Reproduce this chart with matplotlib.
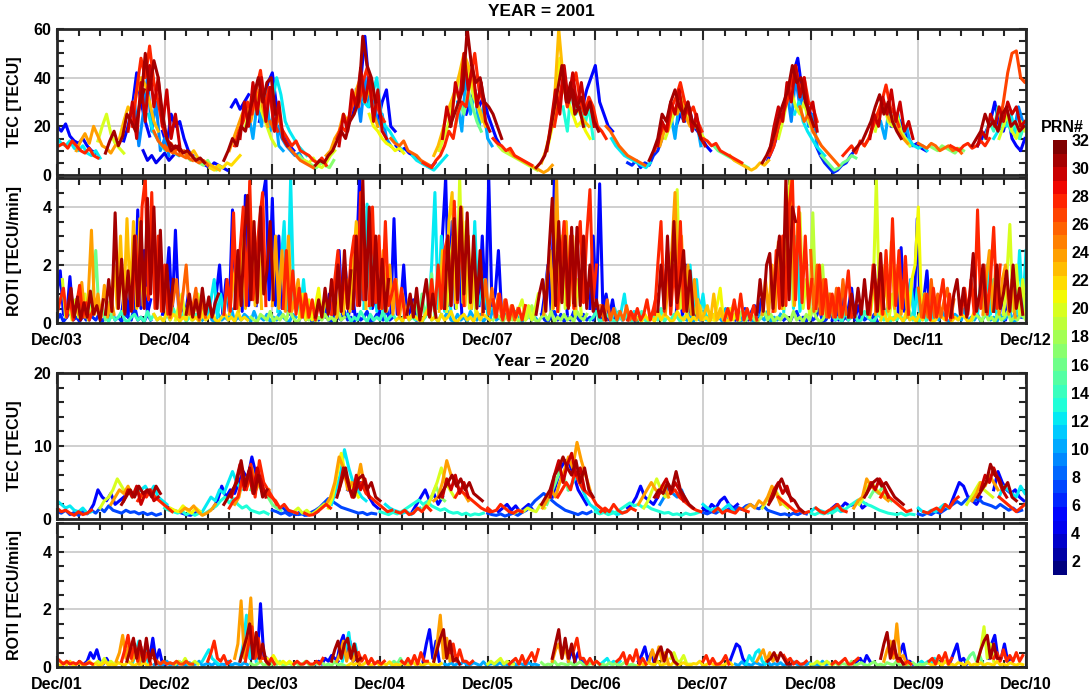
import numpy as np
import matplotlib
matplotlib.use("Agg")
import matplotlib.pyplot as plt
from matplotlib.ticker import MultipleLocator
import matplotlib.colors as mcolors
import matplotlib.cm as mcm

plt.rcParams['font.family'] = ['Liberation Sans', 'DejaVu Sans']
plt.rcParams['font.weight'] = 'bold'

# ---------------- labels ----------------
days01 = ['Dec/03', 'Dec/04', 'Dec/05', 'Dec/06', 'Dec/07', 'Dec/08', 'Dec/09', 'Dec/10', 'Dec/11', 'Dec/12']
days20 = ['Dec/01', 'Dec/02', 'Dec/03', 'Dec/04', 'Dec/05', 'Dec/06', 'Dec/07', 'Dec/08', 'Dec/09', 'Dec/10']
prn_ticks = list(range(2, 33, 2))

# sampling step (days) of the satellite passes
STEP_TEC = 0.04
STEP_ROTI = 0.03

# ---------------- data: (PRN, start day, values) ----------------
tec01 = [
    (5, 0.00, [20,18,21,16,14,13,15,12,10,9]),
    (12, 0.00, [15,13,12,14,11,10,12,9,8,10,7]),
    (28, 0.02, [12,13,11,14,12,10,9,11,8,7]),
    (24, 0.18, [10,14,17,13,20,16,12,11,9,12]),
    (20, 0.38, [14,20,25,17,13,11,9]),
    (31, 0.45, [9,14,18,12,16,25,22,18,30,35]),
    (23, 0.58, [15,22,28,25,34,40,37,30,22,18]),
    (5, 0.62, [14,20,28,42,30,22,16]),
    (30, 0.66, [18,30,15,38,22,45,28,40,20,35,15,25,12]),
    (9, 0.72, [30,12,25,40,18,30,10,15,8]),
    (4, 0.80, [10,6,8,5,7,9,6,8]),
    (28, 0.70, [20,35,48,40,53,38,30,20,15,12]),
    (31, 0.78, [30,50,35,47,40,25,15,10,12,10]),
    (12, 0.85, [25,18,15,12,10,11,9,8]),
    (26, 0.90, [18,14,12,10,13,9,8,10,7,6]),
    (5, 0.98, [18,12,25,20,22,15,10,8]),
    (26, 1.00, [12,10,9,11,8,7,9,6,5,6,4]),
    (31, 1.05, [13,11,12,9,10,8,6,7,5]),
    (23, 1.15, [10,9,8,10,7,6,5,4,3,2]),
    (17, 1.20, [8,6,7,5,4,6,3,2,3]),
    (5, 1.30, [6,5,4,3,5,4,3,2]),
    (22, 1.42, [3,2,4,3,5,4,6,8]),
    (5, 1.62, [28,31,27,30,33]),
    (31, 1.55, [6,10,15,12,20,18,26,33,40,30,38,40,25]),
    (24, 1.60, [10,15,20,25,28,22,30,35,26,20]),
    (30, 1.70, [15,30,20,38,25,40,22,36,18,30,15,12]),
    (10, 1.78, [25,15,30,20,35,18,28,12,10]),
    (28, 1.65, [12,18,22,30,25,35,43,28,36,22,18]),
    (20, 1.75, [20,28,36,30,25,20,15,12]),
    (5, 1.88, [22,30,38,42,28,20,15,12,10]),
    (12, 2.00, [30,40,33,22,18,15,12,10,8]),
    (26, 1.98, [22,18,25,15,12,10,8,6,5,4,3]),
    (9, 2.05, [20,15,12,10,8,9,6,5]),
    (28, 2.10, [18,15,12,14,10,9,8,6,5,7,4]),
    (17, 2.25, [8,6,5,4,3,5,4,3,6]),
    (20, 2.30, [6,5,7,4,3,5,8,10]),
    (31, 2.40, [4,6,5,8,10,14,18,15,22,25,30,57,45,40,30]),
    (24, 2.50, [8,10,15,18,25,22,28,35,40,30,36,25,20]),
    (30, 2.62, [12,25,18,35,28,44,30,40,22,35,18,15]),
    (9, 2.78, [35,22,40,28,33,20,25,15,12]),
    (28, 2.60, [15,20,18,25,32,28,38,44,35,30,25,22]),
    (5, 2.70, [20,25,30,38,57,35,28,22,30,35,20,18]),
    (12, 2.85, [30,28,33,40,25,20,18,15,12,10]),
    (21, 2.90, [25,20,18,15,13,12,10,11,9]),
    (26, 3.10, [15,13,12,14,10,9,8,6,5,4]),
    (5, 3.15, [12,10,11,9,8,7,5,4,3,5]),
    (12, 3.30, [8,6,5,4,3,2,4,6,8]),
    (28, 3.40, [5,4,3,6,8,12,18,15,25,30,28,40,50,35,30]),
    (23, 3.50, [8,12,18,25,30,35,42,50,45,38,30,25,20]),
    (20, 3.55, [10,15,20,28,35,42,48,40,32,28,22]),
    (16, 3.70, [20,30,25,35,28,22,18]),
    (30, 3.58, [15,28,20,38,30,50,35,45,28,38,22,18]),
    (10, 3.72, [30,18,42,25,35,20,28,15,12]),
    (31, 3.65, [20,25,30,35,60,45,38,40,30,28,25,20,15]),
    (5, 3.80, [25,30,35,28,32,25,20,15,12]),
    (28, 4.05, [15,13,12,10,11,8,7,6,5,4]),
    (19, 4.10, [12,10,9,8,7,6,5,4,3,2]),
    (24, 4.20, [10,8,7,6,5,4,3,2,1,2,4]),
    (31, 4.45, [3,5,8,15,25,35,45,30,38,25,28,20]),
    (23, 4.50, [5,10,18,30,60,40,28,35,30,25,22,20]),
    (21, 4.55, [10,18,25,48,35,30,25,20,22,18,15]),
    (30, 4.55, [10,22,35,25,45,30,42,28,38,25,30,20]),
    (13, 4.70, [28,18,38,25,32,20,28,15]),
    (28, 4.62, [20,30,40,28,35,42,30,25,32,28,20,18,15]),
    (5, 4.80, [25,30,28,35,40,45,30,25,20,18]),
    (31, 4.75, [30,35,28,32,25,30,22,18]),
    (26, 5.10, [20,18,15,12,10,8,7,6,5,4]),
    (12, 5.15, [15,12,10,8,7,6,5,4,3,5]),
    (6, 5.30, [5,4,6,3,5,4,8,10,15]),
    (31, 5.50, [6,10,15,25,22,30,35,28,25,30,22,20,15]),
    (28, 5.55, [10,15,20,18,28,32,38,30,25,28,22,18]),
    (30, 5.58, [12,22,18,30,25,35,22,30,18,25,15,12]),
    (10, 5.70, [25,15,30,22,28,18,22,12]),
    (24, 5.60, [12,18,22,28,25,30,24,20,22,18]),
    (20, 5.65, [15,20,25,28,32,25,22,20,18,15]),
    (5, 5.75, [20,25,22,28,20,18,15,12,10]),
    (28, 6.00, [15,14,12,13,10,9,8,7,6,5]),
    (16, 6.10, [12,10,9,8,7,6,5,4,3]),
    (23, 6.25, [8,6,5,4,3,2,3,5,4,6]),
    (31, 6.55, [5,8,12,18,25,30,35,45,38,40,30,25,20]),
    (5, 6.60, [6,10,15,20,28,35,42,48,35,30,25,20]),
    (30, 6.62, [10,20,28,22,38,30,45,32,40,25,30,18]),
    (9, 6.78, [35,22,40,28,35,20,25,12]),
    (28, 6.62, [8,12,20,25,30,38,45,35,40,30,28,22]),
    (20, 6.70, [15,22,30,35,28,25,30,22,18,15]),
    (12, 6.85, [25,30,22,18,15,12,10,8]),
    (26, 6.90, [28,22,25,18,15,12,10,8,6,4]),
    (6, 7.05, [12,8,5,3,1,2,4,5,8,10]),
    (16, 7.10, [8,6,4,2,3,5,6,8,7]),
    (28, 7.30, [8,10,12,9,14,12,15,20,25,30,37,28,25,20]),
    (31, 7.40, [10,12,14,18,22,28,33,25,30,22,18,15]),
    (30, 7.55, [15,25,20,32,25,35,22,30,18,22,15]),
    (10, 7.65, [22,15,28,20,25,15,20,12]),
    (24, 7.50, [12,15,20,25,30,26,22,25,18,15,13]),
    (20, 7.60, [18,25,30,22,20,25,18,15,12]),
    (5, 7.75, [20,25,22,18,15,12,13,11,10]),
    (12, 7.80, [22,18,15,14,12,11,12,10]),
    (26, 8.00, [13,12,11,13,12,10,11,12,10,11,9]),
    (17, 8.10, [12,11,10,12,11,10,9,11,10]),
    (28, 8.30, [12,11,10,12,13,11,12,14,12,15]),
    (31, 8.50, [12,15,18,25,20,22,18,25,28,20,22,18,20]),
    (30, 8.55, [12,18,15,25,20,28,22,30,25,28,20,22]),
    (14, 8.62, [15,22,18,28,20,25,18,22,15,20]),
    (5, 8.55, [12,15,18,22,30,20,18,25,15,12,10,15]),
    (12, 8.70, [15,18,22,20,25,18,15,20,18,12]),
    (20, 8.75, [15,20,25,18,15,22,18,20,15]),
    (27, 8.75, [20,30,42,50,51,40,38,42,30,25,22,20]),
    (9, 8.85, [20,18,28,22,18,15]),
]

roti01 = [
    # low background passes
    (6, 0.00, [0.1,0.3,0.05,0.2,0.4,0.1,0.2,0.05,0.3,0.1,0.5,0.2,0.1,0.3,0.05,0.2,0.1,0.4,0.1,0.2,0.05,0.3,0.2,0.1,0.6,0.1,0.2,0.05,0.3,0.1]),
    (14, 0.45, [0.2,0.05,0.3,0.1,0.2,0.4,0.1,0.05,0.2,0.3,0.1,0.2,0.05,0.4,0.1,0.3,0.1,0.2,0.05,0.3,0.1,0.5,0.2,0.1,0.3,0.05,0.2,0.1,0.3,0.1]),
    (22, 0.90, [0.3,0.1,0.2,0.05,0.4,0.1,0.3,0.2,0.05,0.2,0.1,0.6,0.1,0.2,0.05,0.3,0.1,0.2,0.4,0.1,0.05,0.2,0.3,0.1,0.2,0.05,0.4,0.1,0.2,0.1]),
    (10, 1.35, [0.1,0.2,0.4,0.1,0.05,0.3,0.1,0.2,0.1,0.5,0.05,0.2,0.1,0.3,0.2,0.05,0.4,0.1,0.2,0.1,0.3,0.05,0.2,0.1,0.4,0.2,0.1,0.05,0.3,0.2]),
    (18, 1.80, [0.2,0.1,0.05,0.3,0.2,0.1,0.4,0.05,0.2,0.1,0.3,0.1,0.5,0.2,0.05,0.1,0.3,0.2,0.1,0.4,0.05,0.2,0.1,0.3,0.1,0.2,0.05,0.4,0.1,0.2]),
    (6, 2.25, [0.1,0.4,0.1,0.2,0.05,0.3,0.1,0.2,0.6,0.1,0.05,0.3,0.2,0.1,0.4,0.1,0.2,0.05,0.3,0.1,0.2,0.4,0.05,0.1,0.3,0.2,0.1,0.5,0.1,0.2]),
    (14, 2.70, [0.3,0.05,0.2,0.1,0.4,0.2,0.05,0.3,0.1,0.2,0.1,0.4,0.05,0.2,0.3,0.1,0.2,0.05,0.5,0.1,0.2,0.1,0.3,0.05,0.2,0.4,0.1,0.2,0.05,0.3]),
    (22, 3.15, [0.1,0.2,0.05,0.4,0.1,0.3,0.2,0.1,0.05,0.3,0.5,0.1,0.2,0.05,0.3,0.1,0.2,0.4,0.1,0.05,0.2,0.3,0.1,0.2,0.05,0.4,0.1,0.3,0.2,0.1]),
    (10, 3.60, [0.2,0.4,0.1,0.05,0.3,0.1,0.2,0.05,0.4,0.2,0.1,0.3,0.05,0.2,0.1,0.5,0.1,0.2,0.05,0.3,0.1,0.2,0.4,0.1,0.05,0.2,0.3,0.1,0.2,0.05]),
    (18, 4.05, [0.1,0.3,0.2,0.05,0.2,0.4,0.1,0.2,0.05,0.3,0.1,0.2,0.6,0.1,0.05,0.2,0.3,0.1,0.4,0.05,0.2,0.1,0.3,0.1,0.2,0.05,0.4,0.2,0.1,0.3]),
    (6, 4.50, [0.3,0.1,0.05,0.2,0.4,0.1,0.3,0.05,0.2,0.1,0.4,0.2,0.05,0.3,0.1,0.2,0.1,0.5,0.05,0.2,0.3,0.1,0.2,0.05,0.4,0.1,0.2,0.1,0.3,0.05]),
    (14, 4.95, [0.1,0.2,0.4,0.05,0.1,0.3,0.2,0.1,0.05,0.4,0.1,0.2,0.3,0.05,0.2,0.1,0.4,0.1,0.05,0.3,0.2,0.1,0.5,0.05,0.2,0.1,0.3,0.2,0.05,0.2]),
    (22, 5.40, [0.2,0.05,0.3,0.1,0.2,0.05,0.4,0.1,0.3,0.2,0.05,0.1,0.4,0.2,0.1,0.3,0.05,0.2,0.1,0.6,0.1,0.2,0.05,0.3,0.1,0.2,0.4,0.05,0.1,0.3]),
    (10, 5.85, [0.1,0.3,0.05,0.2,0.1,0.4,0.2,0.05,0.3,0.1,0.2,0.05,0.5,0.1,0.2,0.3,0.05,0.1,0.4,0.2,0.1,0.05,0.3,0.2,0.1,0.4,0.05,0.2,0.1,0.3]),
    (18, 6.30, [0.2,0.1,0.4,0.05,0.2,0.3,0.1,0.05,0.2,0.4,0.1,0.3,0.05,0.2,0.1,0.3,0.2,0.05,0.4,0.1,0.2,0.05,0.3,0.1,0.5,0.2,0.05,0.1,0.3,0.2]),
    (6, 6.75, [0.1,0.2,0.05,0.3,0.4,0.1,0.2,0.05,0.3,0.1,0.2,0.5,0.05,0.1,0.3,0.2,0.1,0.4,0.05,0.2,0.1,0.3,0.2,0.05,0.4,0.1,0.2,0.1,0.3,0.05]),
    (14, 7.20, [0.3,0.1,0.2,0.05,0.4,0.1,0.2,0.3,0.05,0.1,0.4,0.2,0.1,0.05,0.3,0.2,0.1,0.5,0.05,0.2,0.1,0.3,0.05,0.2,0.4,0.1,0.2,0.05,0.3,0.1]),
    (22, 7.65, [0.1,0.4,0.05,0.2,0.1,0.3,0.2,0.05,0.4,0.1,0.2,0.05,0.3,0.1,0.6,0.2,0.05,0.1,0.3,0.2,0.1,0.4,0.05,0.2,0.1,0.3,0.2,0.05,0.1,0.4]),
    (10, 8.10, [0.2,0.05,0.3,0.1,0.4,0.2,0.05,0.1,0.3,0.2,0.1,0.5,0.05,0.2,0.1,0.3,0.05,0.2,0.4,0.1,0.2,0.05,0.3,0.1,0.2,0.4,0.05,0.1,0.3,0.2]),
    (18, 8.50, [0.1,0.3,0.2,0.05,0.4,0.1,0.2,0.05,0.3,0.1,0.2,0.4,0.05,0.2,0.1,0.3,0.2,0.05,0.1,0.4]),
    # active passes
    (5, 0.00, [1.0,1.8,0.3,0.2,1.6,0.2,0.8,0.1,0.2,0.5,0.1,0.6]),
    (28, 0.00, [0.3,0.8,1.2,0.2,0.9,0.1,0.6,1.3,0.2,0.7,0.1,0.4]),
    (20, 0.05, [1.5,0.2,0.6,0.1,0.8,0.2,0.5,1.0,0.1,0.5]),
    (31, 0.10, [0.5,1.2,0.2,0.9,0.1,0.7,0.2,1.1,0.3,0.6,0.1,0.8]),
    (24, 0.20, [0.3,1.4,0.2,0.9,3.2,0.3,1.0,0.2,1.3,0.2,0.9,0.3]),
    (16, 0.30, [0.2,0.8,2.5,0.3,0.5,0.1,0.7,0.2]),
    (31, 0.45, [0.3,1.5,0.4,3.8,0.5,2.2,0.3,1.8,0.4,3.0,0.6,2.0]),
    (23, 0.50, [0.4,2.0,0.5,3.0,0.4,3.6,0.8,3.5,0.5,3.6,0.6,1.2]),
    (5, 0.60, [0.3,1.2,0.2,2.0,0.4,3.9,0.5,2.5,0.3,0.8]),
    (28, 0.70, [0.5,3.0,0.6,4.0,5.0,0.8,4.5,0.5,3.0,0.4,2.0,0.3,0.8]),
    (31, 0.75, [0.6,3.5,0.5,4.3,1.0,4.0,0.5,3.2,0.4,2.0,0.3,1.5]),
    (5, 0.98, [0.3,1.2,2.6,0.3,3.2,0.4,0.7,0.2,1.0,0.2]),
    (26, 1.05, [0.2,0.8,1.5,0.2,1.0,2.0,0.3,0.5,1.2,0.1,0.8,0.2]),
    (20, 1.10, [0.1,0.6,1.0,0.2,0.7,0.1,0.5,1.0,0.2,0.6]),
    (31, 1.20, [0.3,1.0,0.2,0.8,0.2,1.2,0.3,0.9,0.2,0.7,1.0]),
    (12, 1.40, [0.2,0.8,1.5,0.2,1.0,0.3,1.2,0.3]),
    (5, 1.45, [0.2,1.0,2.0,0.3,1.5,0.4,3.9,0.5,2.5,0.4,4.4,0.6,3.0]),
    (28, 1.55, [0.3,1.5,0.4,3.8,0.5,2.5,4.0,0.6,4.9,0.8,2.2,3.5,4.5,0.6]),
    (23, 1.60, [0.3,1.2,2.0,0.4,3.0,0.5,2.5,3.5,0.6,3.0,0.5]),
    (31, 1.65, [0.5,2.5,0.6,3.0,4.4,0.8,3.5,0.7,4.0,1.0,1.8,3.5,0.8]),
    (5, 1.85, [0.6,3.0,4.3,5.0,0.8,4.3,0.6,3.0,0.5,1.0,0.3]),
    (12, 2.05, [0.4,2.0,3.5,0.5,5.0,0.6,1.2,0.3,1.5,0.2]),
    (24, 2.00, [0.6,3.0,0.5,2.5,0.4,3.0,0.4,0.8,1.5,0.2,1.0,0.2]),
    (28, 2.10, [0.5,2.5,0.4,1.8,0.3,1.2,0.2,1.0,0.2,0.8,0.1,0.6]),
    (21, 2.25, [0.2,1.0,0.1,0.8,0.1,0.6,1.2,0.2,0.7]),
    (31, 2.40, [0.2,0.8,0.2,1.2,0.3,1.5,0.3,2.0,0.4,2.5,0.5,1.8]),
    (5, 2.50, [0.2,1.0,0.2,1.5,2.5,0.3,1.8,0.3,1.2,0.2]),
    (28, 2.55, [0.3,1.5,2.5,0.4,1.8,0.5,2.2,3.0,0.6,4.5,0.8,2.5]),
    (23, 2.60, [0.2,1.2,0.3,1.5,0.4,2.0,3.5,0.6,4.0,0.5]),
    (5, 2.75, [0.4,2.0,5.0,0.8,1.5,3.6,0.5,1.0,0.3,0.8]),
    (31, 2.75, [0.5,3.0,0.6,5.0,0.8,4.0,0.6,3.0,0.5,2.2,0.4,1.5]),
    (12, 2.85, [0.5,4.1,0.5,2.5,0.4,1.5,0.3,1.0]),
    (28, 2.90, [0.6,4.0,0.7,3.0,0.5,3.5,0.6,1.0,1.5,0.3,1.2,0.2]),
    (24, 3.00, [0.5,2.5,0.4,2.0,0.3,1.5,0.2,1.0,0.2,0.8]),
    (5, 3.10, [0.3,3.6,0.3,0.5,2.0,0.2,0.4,0.8,0.1]),
    (16, 3.30, [0.2,0.8,0.1,1.0,0.2,0.8,1.7,0.2]),
    (31, 3.25, [0.3,1.0,0.2,1.2,0.1,0.8,1.5,0.2,1.0,0.2]),
    (28, 3.45, [0.3,1.5,0.4,2.0,0.5,2.5,3.0,0.6,4.2,0.7,3.5,0.6]),
    (12, 3.45, [0.4,2.0,4.5,0.5,3.0,0.4,2.0,0.3]),
    (5, 3.55, [0.5,3.0,5.0,0.6,3.5,0.5,2.5,0.3]),
    (23, 3.55, [0.4,2.5,0.5,3.5,4.5,0.7,3.0,4.0,0.6,3.0,0.5,2.0]),
    (20, 3.62, [0.4,2.0,3.0,0.5,5.0,0.7,3.5,0.5,2.0,0.3]),
    (31, 3.60, [0.5,3.0,0.6,3.6,0.8,4.0,1.0,3.8,0.7,3.0,0.5,2.5,0.4]),
    (5, 3.92, [0.6,3.0,0.5,5.0,0.6,1.0,2.5,0.3,0.6]),
    (12, 3.85, [0.5,3.5,0.6,1.0,1.5,0.3,0.5]),
    (26, 3.95, [0.3,1.5,0.3,1.2,0.2,1.0,0.2,0.8,0.1,0.6,0.1,0.5]),
    (28, 4.05, [0.8,0.2,1.0,0.1,0.8,0.1,0.6,0.2,0.5,0.1,0.6]),
    (20, 4.20, [0.1,0.6,0.1,0.5,0.8,0.1,0.6,0.1,0.5,1.0]),
    (31, 4.45, [0.3,1.0,1.5,0.4,2.5,4.3,0.6,3.5,0.7,3.0,0.5,3.3,0.6]),
    (5, 4.50, [0.2,1.0,2.0,0.4,5.0,0.5,1.0,1.5,0.3]),
    (24, 4.52, [0.3,1.5,2.5,0.5,5.0,0.8,2.0,3.5,0.6,3.0,0.5]),
    (28, 4.65, [0.4,2.0,3.5,0.6,3.0,0.5,2.5,3.5,0.7,3.0,4.6,0.8,2.0]),
    (20, 4.60, [0.5,2.5,0.4,3.0,0.5,1.5,2.5,0.3,1.5,0.3]),
    (5, 4.95, [0.5,3.0,0.6,4.8,0.5,1.0,0.2,0.8,0.1]),
    (31, 4.80, [0.7,3.3,0.6,3.0,0.5,2.0,0.4,0.8,0.2,0.6,0.1]),
    (26, 5.05, [0.6,0.1,0.8,0.1,0.5,0.1,0.4,0.1,0.6,0.1,0.3,0.1]),
    (12, 5.15, [0.1,0.5,0.1,0.4,1.0,0.1,0.2,0.4,0.1]),
    (28, 5.30, [0.1,0.4,0.1,0.5,0.1,0.3,0.8,0.1,0.5,1.0]),
    (28, 5.55, [0.3,2.0,3.5,0.4,2.5,0.3,2.0,0.5,3.5,0.4,1.2]),
    (31, 5.58, [0.4,2.0,0.5,3.0,0.6,3.5,0.7,1.5,2.5,0.4,1.8,0.3]),
    (24, 5.65, [0.3,1.5,2.5,4.5,0.5,3.0,0.4,2.0,0.3,1.5,0.2]),
    (20, 5.70, [0.4,2.5,4.6,0.5,1.5,0.3,1.0,0.2,0.6]),
    (5, 5.75, [0.3,1.5,0.2,2.0,0.3,1.2,0.2,0.8,0.1]),
    (12, 5.85, [0.3,2.0,0.4,1.5,0.2,1.0,0.1,0.3]),
    (23, 5.95, [0.8,0.1,0.3,0.6,0.1,1.0,0.1,0.5,0.1,0.4,0.1,0.6]),
    (21, 6.10, [0.1,0.6,1.2,0.1,0.3,0.5,0.1,0.4,0.1]),
    (28, 6.20, [0.1,0.5,0.1,0.8,0.1,1.0,0.1,0.5,0.1,0.6,0.1]),
    (6, 6.30, [0.1,0.4,0.1,0.5,0.1,0.4,0.6,0.1,0.8]),
    (31, 6.50, [0.3,1.5,0.4,2.0,2.4,0.5,2.0,3.0,0.6,5.0,0.8,4.0,3.5]),
    (24, 6.55, [0.3,1.5,0.3,2.0,0.4,2.8,0.5,2.0,3.0,5.0,0.6,3.5]),
    (28, 6.65, [0.4,2.5,0.5,3.0,0.6,4.0,5.0,0.8,4.0,0.7,3.0,0.5,1.5]),
    (20, 6.75, [0.5,3.5,5.0,0.6,2.5,3.8,0.5,1.5,0.3]),
    (12, 6.75, [0.4,2.5,4.7,0.5,3.0,0.4,1.0]),
    (19, 6.99, [0.4,3.8,0.4,1.0,2.0,0.3,1.0]),
    (26, 7.00, [2.5,0.4,2.0,0.3,1.5,0.2,1.0,0.2,1.2,0.2,1.5,0.3]),
    (28, 7.05, [0.5,2.0,0.3,1.5,0.2,1.0,0.2,1.2,0.2,0.8,1.8,0.2]),
    (5, 7.20, [0.1,0.8,0.1,1.0,0.2,0.5,1.2,0.1,0.6,0.2]),
    (31, 7.35, [0.2,1.0,0.2,1.2,0.3,1.5,0.3,1.0,2.0,0.4,2.4,0.5]),
    (28, 7.55, [0.3,2.0,0.4,1.5,0.3,2.5,0.5,3.6,0.6,2.5,0.5,2.3,0.3]),
    (20, 7.55, [0.2,1.0,5.0,0.3,0.8,1.2,0.2,1.0,0.2]),
    (24, 7.60, [0.3,1.5,0.3,2.0,0.4,2.8,0.5,2.0,0.3,1.5,0.2]),
    (5, 7.81, [0.3,2.6,0.4,0.8,1.5,0.3,3.6,0.4,0.8,1.8,0.2]),
    (21, 7.91, [0.3,1.5,2.0,4.0,0.4,1.0,0.2,0.5]),
    (12, 7.90, [0.3,1.5,0.2,1.2,0.2,1.0,0.1,0.8,0.1]),
    (26, 8.00, [1.2,0.2,1.0,0.2,1.5,0.2,1.0,0.2,0.8,1.2,0.1,0.8]),
    (28, 8.05, [0.2,1.0,0.1,1.2,0.2,0.8,1.5,0.1,1.0,0.2]),
    (31, 8.30, [0.2,1.0,1.5,0.3,1.2,0.2,1.0,2.4,0.4,1.0,2.0,0.4]),
    (28, 8.40, [0.3,1.2,0.3,1.5,0.3,3.9,0.5,2.0,0.3,1.5,3.3,0.5,2.0]),
    (12, 8.55, [0.3,1.5,0.2,2.0,0.3,1.5,0.2,1.0]),
    (24, 8.60, [0.3,1.5,2.5,0.4,2.0,0.3,1.5,2.0,0.3,1.5,0.2]),
    (20, 8.79, [0.3,1.5,3.4,0.4,2.0,0.3,1.5,0.2]),
    (5, 8.75, [0.2,1.0,0.1,0.8,1.2,0.2,1.0,0.2]),
    (31, 8.70, [0.4,2.0,0.5,1.0,1.8,0.4,2.0,0.5,1.2,0.3]),
    (12, 8.85, [0.3,1.5,0.3,2.5,0.4,2.5]),
]

tec20 = [
    (7, 0.00, [1.0,0.8,1.2,0.6,0.9,0.5,1.0,0.7,1.2,0.8,1.5,1.0,1.8,1.2,1.0,0.8,1.2,0.9,1.0,0.7,0.9,0.6,0.8,0.5,0.7]),
    (13, 1.00, [1.5,1.2,1.0,0.8,1.1,0.6,0.9,0.5,0.8,0.6,1.0,1.4,1.8,2.5,3.0,2.2,2.8,2.0,1.5,1.8,1.2,1.0,0.8,1.0,0.7]),
    (7, 2.00, [1.2,1.0,0.7,0.9,0.5,0.8,0.6,0.7,0.5,0.9,1.2,1.6,2.2,2.8,2.4,2.0,1.6,1.4,1.2,1.0,0.8,0.9,0.6,0.8,0.7]),
    (13, 3.00, [1.0,0.8,0.6,0.9,0.7,1.0,1.4,1.8,2.2,2.6,2.0,2.4,1.8,1.5,1.2,1.4,1.0,0.8,0.9,0.6,0.8,0.5,0.7,0.6,0.8]),
    (7, 4.00, [0.8,0.6,0.5,0.7,0.4,0.6,0.8,0.5,0.9,1.2,1.8,2.5,3.0,3.5,3.0,2.5,2.0,1.6,1.2,1.0,0.8,0.6,0.9,0.7,1.0]),
    (13, 5.00, [1.0,0.7,0.9,0.6,0.8,1.0,1.4,1.8,2.2,1.8,2.0,1.6,1.8,1.4,1.2,1.0,0.8,0.9,0.6,0.7,0.5,0.8,0.6,0.7,0.9]),
    (7, 6.00, [0.9,0.7,1.0,0.8,1.2,1.0,1.4,1.1,1.6,1.3,1.8,2.0,1.6,1.4,1.8,1.2,1.0,0.8,0.6,0.7,0.5,0.8,0.6,0.9,0.7]),
    (13, 7.00, [0.8,0.6,0.9,0.7,1.0,0.8,1.2,1.5,1.3,1.8,2.2,2.6,2.4,2.0,1.8,1.5,1.2,1.0,0.8,0.7,0.6,0.8,0.5,0.7,0.6]),
    (7, 8.00, [0.7,0.5,0.8,0.6,1.0,0.8,1.2,1.6,2.0,2.4,2.0,2.6,3.0,2.5,2.8,2.2,2.0,1.8,1.5,2.0,1.6,1.2,1.5,1.0,1.2]),
    (12, 0.00, [2.5,2.0,1.5,1.8,1.2,1.0,1.5,0.8,1.0]),
    (28, 0.00, [1.5,1.0,1.2,0.8,0.5,1.0,0.6,0.8,1.2]),
    (5, 0.30, [1.0,2.0,4.0,3.0,2.5,3.5,2.0,2.5,3.0]),
    (20, 0.40, [1.5,2.5,3.0,4.0,5.5,4.5,3.5,4.0]),
    (24, 0.50, [2.0,3.0,4.0,3.5,4.5,3.0,4.0,3.0,3.5]),
    (30, 0.62, [2.5,4.0,3.0,4.5,2.0,3.5,4.0,2.5,3.0]),
    (31, 0.60, [2.0,3.0,4.0,3.0,4.5,3.5,4.0,3.0,4.5,3.5]),
    (12, 0.70, [3.0,3.5,4.0,4.5,3.5,4.5,3.0,2.5,2.0]),
    (28, 0.75, [2.5,3.5,3.0,4.0,3.0,2.5,2.0,1.5,1.0]),
    (6, 1.00, [2.0,1.5,1.2,1.0,0.8,0.6,0.5,0.8,1.0]),
    (21, 1.05, [1.5,1.2,1.0,1.8,1.2,0.8,1.5,1.0]),
    (24, 1.15, [1.0,1.5,1.2,1.8,1.0,0.5,0.8,1.2,2.0]),
    (12, 1.35, [1.0,2.0,3.0,2.5,4.0,3.5,5.0,6.5,5.0,4.0]),
    (5, 1.45, [1.5,2.5,4.5,3.0,4.0,3.5,5.0,6.5,5.5,8.5,6.0,4.5]),
    (31, 1.55, [2.0,3.0,4.0,5.0,8.0,4.5,7.0,3.5,6.0,3.0,4.0]),
    (30, 1.62, [3.0,5.0,7.5,4.0,6.5,3.5,7.0,5.0,3.0]),
    (28, 1.60, [1.5,2.5,3.0,5.5,4.0,7.5,3.0,8.0,5.0,4.0,3.0,2.0]),
    (24, 1.65, [2.0,3.0,6.0,4.5,7.0,4.0,5.5,3.5,4.0]),
    (16, 1.80, [4.0,5.5,4.5,3.5,3.0,2.0,1.5,1.2]),
    (28, 1.95, [3.5,3.0,2.5,1.5,2.0,1.2,1.0,0.8]),
    (6, 2.10, [1.5,1.0,0.8,0.6,1.0,0.5,0.8,0.6,1.0]),
    (20, 2.20, [1.0,1.5,0.8,1.2,0.6,1.0,1.5,2.0]),
    (28, 2.30, [0.8,0.5,0.6,1.0,1.5,2.0,1.5]),
    (24, 2.50, [2.0,3.0,5.0,8.5,7.0,4.0,5.0,4.5,7.5,4.0]),
    (21, 2.52, [1.5,3.0,6.0,9.0,6.0,5.0,4.0,3.0]),
    (12, 2.55, [2.0,4.0,6.0,9.5,7.0,5.0,4.0,3.0,2.5]),
    (30, 2.62, [4.0,7.0,5.0,3.0,6.0,4.0,5.5,3.0]),
    (31, 2.60, [3.0,5.0,7.0,4.0,3.0,5.5,6.0,4.0,5.0,3.0,2.5]),
    (5, 2.70, [4.0,5.0,3.5,5.0,4.0,3.0,2.0,1.5]),
    (28, 2.75, [3.0,4.5,5.0,3.5,3.0,2.5,2.0,1.5,1.0,1.2]),
    (12, 3.05, [2.0,1.5,1.2,1.0,0.8,1.0,0.6,1.2,1.5]),
    (28, 3.15, [1.0,0.8,1.2,0.6,0.8,1.5,1.0,1.8,1.2]),
    (5, 3.30, [1.0,2.0,3.0,4.0,2.5,3.5,2.0,3.0]),
    (17, 3.40, [1.5,2.0,3.0,4.5,3.0,2.5]),
    (20, 3.45, [2.0,3.5,5.0,7.0,5.0,4.0,3.0]),
    (24, 3.50, [2.5,3.0,5.0,8.0,6.0,5.0,4.0,3.5,2.5]),
    (30, 3.58, [3.0,5.5,4.0,6.0,3.5,5.0,3.0]),
    (31, 3.55, [3.0,4.0,5.0,6.0,4.5,5.5,4.0,5.0,3.5,3.0,2.5]),
    (28, 3.70, [3.0,4.0,3.5,3.0,2.5,2.0,1.5,1.2,1.0]),
    (28, 4.00, [1.5,1.0,1.2,2.0,1.5,1.0,0.8,1.2,1.0]),
    (5, 4.10, [1.0,1.5,2.0,1.2,1.8,1.0,1.5,2.0,1.2]),
    (20, 4.25, [0.8,1.2,1.0,1.5,1.2,1.0,2.0,1.5]),
    (24, 4.51, [1.5,2.5,4.0,3.0,5.0,6.5,8.5,7.0,10.5,8.0,6.0,4.0]),
    (31, 4.50, [2.0,3.0,4.0,6.0,7.0,8.5,7.0,6.0,8.0,5.0,7.0,4.0,3.0]),
    (30, 4.58, [3.0,6.0,8.0,5.0,7.5,9.0,6.0,7.0,4.0]),
    (5, 4.60, [3.0,5.0,7.0,8.0,7.5,6.0,4.0,3.0,2.0]),
    (16, 4.55, [2.0,3.5,5.0,6.5,5.5,4.0]),
    (28, 4.65, [3.0,4.0,5.0,4.0,6.5,5.0,4.0,3.5,3.0,2.0,1.5,1.0]),
    (12, 4.75, [4.0,5.0,6.0,4.5,3.0,2.0,1.5]),
    (12, 5.00, [1.5,1.0,1.2,0.8,1.0,0.6,0.8,1.0]),
    (28, 5.05, [1.0,1.5,1.0,2.0,1.2,0.8,1.0,1.5,1.2]),
    (5, 5.30, [1.5,2.0,3.0,4.5,3.0,2.5,2.0,3.0]),
    (24, 5.40, [2.0,3.0,4.0,5.0,4.0,3.5,4.5,3.0]),
    (20, 5.45, [1.5,2.5,4.0,5.5,4.0,3.0,3.5]),
    (9, 5.60, [2.0,3.0,4.5,3.5,3.0,4.0,2.5]),
    (30, 5.58, [3.0,4.5,5.5,3.5,5.0,4.0,2.5]),
    (31, 5.55, [3.0,4.0,3.5,5.0,4.0,6.5,4.0,3.0,2.0,1.5]),
    (28, 5.70, [3.5,4.0,3.0,2.5,2.0,1.5,1.2,1.0]),
    (5, 6.00, [1.5,1.0,2.0,1.5,2.5,3.0,2.0,1.5,2.0]),
    (12, 6.00, [2.0,1.5,1.2,1.5,1.0,1.5,2.0,1.2]),
    (28, 6.10, [1.0,1.5,0.8,1.2,1.0,0.8,1.5,1.2,1.0]),
    (24, 6.40, [1.5,2.0,1.5,2.5,2.0,3.0,4.5,3.5,2.0]),
    (20, 6.55, [1.5,2.5,3.5,4.0,3.0,2.0,1.5]),
    (30, 6.62, [2.5,4.0,5.0,3.5,4.5,2.5]),
    (31, 6.61, [2.0,3.0,4.5,5.5,4.0,3.0,2.5,1.5,1.0]),
    (28, 6.70, [3.0,2.5,2.0,1.5,1.0,1.2,0.8,1.0]),
    (12, 7.00, [1.0,1.5,1.2,1.0,0.8,1.2,1.5,1.0,1.2]),
    (28, 7.05, [1.5,1.0,0.8,1.2,1.5,2.0,1.2,1.0]),
    (5, 7.20, [1.5,2.0,1.5,2.2,1.8,2.0,2.5,1.5,2.0]),
    (24, 7.40, [1.5,2.5,3.0,5.5,4.5,4.0,3.5,3.0,2.5]),
    (20, 7.45, [2.0,3.0,4.5,5.0,4.0,3.5,3.0]),
    (30, 7.52, [3.5,5.0,4.0,5.5,4.5,3.0]),
    (31, 7.50, [3.0,4.0,5.0,5.5,4.5,5.0,4.0,3.0,2.5,2.0]),
    (16, 7.55, [3.0,4.0,3.5,4.5,3.0,2.5]),
    (28, 7.65, [3.0,4.0,3.0,2.5,2.0,1.5,1.0,1.2]),
    (12, 8.00, [1.5,1.0,0.8,1.2,1.0,1.5,2.0,1.5]),
    (28, 8.05, [1.0,0.8,1.2,1.5,1.0,2.0,1.5,2.5,3.0]),
    (5, 8.30, [2.0,3.5,5.0,4.5,3.0,2.5,2.0,3.0]),
    (20, 8.45, [2.0,3.0,4.0,5.0,4.0,3.5,3.0]),
    (24, 8.50, [2.5,3.5,5.0,4.5,6.0,5.0,4.0]),
    (30, 8.58, [4.0,6.0,5.0,7.0,5.5,4.0,3.0]),
    (31, 8.55, [3.0,4.0,5.0,7.5,6.0,5.5,4.0,5.0,3.0,2.5]),
    (5, 8.70, [4.0,6.5,5.0,4.0,3.5,4.0,3.0,2.5]),
    (12, 8.75, [3.0,4.5,4.0,3.5,3.0,4.5,3.5]),
    (28, 8.75, [3.0,2.5,2.0,1.5,1.0,1.5,2.0]),
]

roti20 = [
    # low background passes
    (22, 0.00, [0.1,0.05,0.15,0.08,0.2,0.05,0.1,0.15,0.05,0.1,0.2,0.08,0.12,0.05,0.1,0.18,0.06,0.1,0.05,0.15,0.1,0.06,0.2,0.1,0.05,0.12,0.08,0.15,0.05,0.1]),
    (10, 0.90, [0.08,0.15,0.05,0.1,0.2,0.06,0.12,0.05,0.18,0.1,0.05,0.15,0.08,0.1,0.2,0.05,0.1,0.12,0.06,0.15,0.05,0.1,0.08,0.2,0.05,0.12,0.1,0.06,0.15,0.08]),
    (17, 1.80, [0.12,0.05,0.1,0.18,0.06,0.1,0.05,0.15,0.08,0.2,0.05,0.1,0.12,0.06,0.15,0.05,0.1,0.2,0.08,0.05,0.12,0.1,0.15,0.06,0.1,0.05,0.18,0.08,0.1,0.05]),
    (22, 2.70, [0.05,0.12,0.08,0.15,0.05,0.1,0.2,0.06,0.1,0.15,0.05,0.12,0.08,0.18,0.05,0.1,0.06,0.15,0.1,0.05,0.2,0.08,0.12,0.05,0.1,0.15,0.06,0.1,0.05,0.12]),
    (10, 3.60, [0.1,0.06,0.15,0.05,0.12,0.1,0.2,0.05,0.08,0.15,0.1,0.05,0.18,0.06,0.1,0.12,0.05,0.15,0.08,0.1,0.05,0.2,0.06,0.12,0.1,0.05,0.15,0.08,0.1,0.06]),
    (17, 4.50, [0.15,0.05,0.1,0.08,0.2,0.05,0.12,0.1,0.06,0.15,0.05,0.1,0.18,0.08,0.05,0.12,0.1,0.2,0.06,0.1,0.05,0.15,0.08,0.12,0.05,0.1,0.18,0.06,0.1,0.05]),
    (22, 5.40, [0.06,0.12,0.05,0.15,0.1,0.08,0.2,0.05,0.1,0.12,0.06,0.18,0.05,0.1,0.15,0.08,0.05,0.12,0.1,0.2,0.05,0.08,0.15,0.1,0.06,0.12,0.05,0.1,0.18,0.08]),
    (10, 6.30, [0.1,0.05,0.18,0.08,0.1,0.05,0.15,0.12,0.06,0.1,0.2,0.05,0.12,0.08,0.15,0.05,0.1,0.06,0.18,0.1,0.05,0.12,0.08,0.15,0.06,0.1,0.05,0.2,0.08,0.12]),
    (17, 7.20, [0.08,0.15,0.05,0.12,0.1,0.06,0.2,0.05,0.1,0.15,0.08,0.05,0.12,0.18,0.06,0.1,0.05,0.15,0.1,0.08,0.2,0.05,0.12,0.06,0.1,0.15,0.05,0.1,0.08,0.12]),
    (22, 8.10, [0.12,0.06,0.1,0.15,0.05,0.2,0.08,0.1,0.05,0.15,0.12,0.06,0.18,0.05,0.1,0.08,0.15,0.05,0.12,0.1,0.06,0.2,0.08,0.1,0.05,0.15,0.1,0.06,0.12,0.08]),
    # active passes
    (28, 0.00, [0.3,0.2,0.1,0.2,0.1,0.15,0.1,0.2,0.1,0.1,0.15,0.1]),
    (5, 0.25, [0.1,0.2,0.5,0.3,0.6,0.2,0.1,0.3,0.1]),
    (20, 0.35, [0.1,0.2,0.1,0.3,0.1,0.2,0.1,0.15]),
    (24, 0.55, [0.2,0.5,1.1,0.3,0.8,0.2,0.5,0.1,0.4]),
    (28, 0.60, [0.2,0.6,1.1,0.3,0.8,0.2,0.7,0.2,0.5,0.1]),
    (31, 0.65, [0.2,0.6,1.0,0.3,0.9,0.2,1.0,0.2,0.6,0.1]),
    (5, 0.80, [0.2,0.8,0.3,1.0,0.2,0.6,0.1,0.1]),
    (12, 0.70, [0.1,0.5,0.9,0.2,0.6,0.1]),
    (27, 0.90, [0.3,0.2,0.1,0.2,0.1,0.15,0.1,0.2,0.1,0.1,0.2,0.1,0.1]),
    (20, 1.10, [0.1,0.2,0.1,0.3,0.1,0.1,0.2,0.1]),
    (12, 1.35, [0.2,0.4,0.6,0.3,0.2,0.1]),
    (28, 1.40, [0.2,0.5,0.9,0.3,0.2,0.4,0.1,0.2]),
    (24, 1.65, [0.3,0.8,2.3,0.3,1.0,2.4,0.3,0.5,0.2]),
    (12, 1.70, [0.2,0.8,1.8,0.3,1.0,0.2]),
    (31, 1.70, [0.2,0.6,1.0,1.5,0.3,1.2,0.3,0.8,0.2,0.1]),
    (5, 1.80, [0.3,1.0,0.3,2.2,0.4,0.3,0.1]),
    (28, 1.75, [0.2,0.8,1.4,0.3,1.0,0.3,0.3,0.1,0.3,0.1]),
    (21, 1.95, [0.3,0.2,0.4,0.2,0.1,0.2,0.1,0.2,0.1]),
    (28, 2.20, [0.1,0.2,0.1,0.1,0.2,0.1,0.1,0.2,0.1,0.3]),
    (5, 2.40, [0.1,0.2,0.1,0.3,0.2,0.4,0.3,0.2]),
    (31, 2.55, [0.2,0.6,0.9,0.3,0.8,1.0,0.3,0.8,0.2,0.3]),
    (5, 2.60, [0.2,0.8,1.1,0.3,0.9,0.2,0.3]),
    (12, 2.65, [0.2,0.6,1.2,0.3,0.8,0.2]),
    (24, 2.60, [0.2,0.5,0.9,0.2,0.7,0.2,0.5,0.1]),
    (28, 2.80, [0.5,0.2,0.4,0.1,0.3,0.1,0.2,0.1,0.2]),
    (16, 3.10, [0.1,0.2,0.1,0.3,0.1,0.2,0.1]),
    (28, 3.20, [0.2,0.1,0.3,0.1,0.4,0.1,0.5,0.2,0.2]),
    (5, 3.40, [0.2,0.8,1.3,0.3,0.9,0.2]),
    (24, 3.50, [0.2,0.8,1.8,0.3,1.0,0.2,0.3]),
    (31, 3.50, [0.2,0.6,1.0,1.3,0.3,0.9,0.2,0.3,0.1]),
    (28, 3.65, [0.5,0.8,0.2,0.6,0.2,0.2,0.1,0.2]),
    (20, 4.00, [0.1,0.2,0.1,0.2,0.3,0.1,0.2,0.1,0.1]),
    (28, 4.20, [0.1,0.2,0.3,0.1,0.4,0.1,0.3,0.5,0.2,0.6]),
    (31, 4.60, [0.3,0.8,1.3,0.3,1.0,0.3,0.8,0.2]),
    (24, 4.60, [0.2,0.6,0.8,0.3,0.7,0.2]),
    (5, 4.75, [0.2,0.6,0.2,0.5,0.2,0.1]),
    (28, 4.80, [0.6,1.0,0.3,0.3,0.1,0.3,0.1,0.2,0.1]),
    (12, 5.05, [0.1,0.2,0.3,0.1,0.2,0.1,0.2]),
    (28, 5.20, [0.2,0.3,0.5,0.1,0.4,0.2,0.6,0.1,0.3,0.1]),
    (5, 5.40, [0.2,0.4,0.7,0.2,0.5,0.1]),
    (24, 5.50, [0.2,0.6,0.2,0.7,0.2,0.5,0.1]),
    (31, 5.55, [0.2,0.5,0.7,0.2,0.6,0.5,0.2,0.1]),
    (20, 5.70, [0.3,0.5,0.2,0.2,0.4,0.1,0.1]),
    (28, 6.00, [0.2,0.4,0.1,0.3,0.1,0.1,0.2,0.4,0.1]),
    (5, 6.25, [0.2,0.5,0.8,0.7,0.3,0.1]),
    (12, 6.40, [0.1,0.4,0.2,0.5,0.6,0.2,0.1]),
    (24, 6.50, [0.2,0.4,0.6,0.2,0.5,0.2,0.4]),
    (31, 6.60, [0.2,0.3,0.5,0.2,0.5,0.3,0.1,0.1]),
    (28, 6.75, [0.4,0.2,0.3,0.1,0.2,0.1,0.1,0.2]),
    (20, 7.00, [0.1,0.1,0.2,0.1,0.1,0.2,0.1,0.1]),
    (28, 7.20, [0.1,0.2,0.1,0.2,0.3,0.1,0.1,0.2,0.3]),
    (5, 7.40, [0.1,0.2,0.3,0.1,0.4,0.2]),
    (24, 7.68, [0.2,0.6,0.9,0.3,1.5,0.3,0.4,0.1]),
    (31, 7.65, [0.3,0.8,1.2,0.3,0.9,0.3,0.3,0.1]),
    (5, 7.80, [0.2,0.5,0.8,0.2,0.2,0.1]),
    (28, 7.75, [0.4,0.6,0.2,0.2,0.1,0.2,0.1]),
    (12, 8.00, [0.1,0.2,0.1,0.2,0.1,0.3,0.2]),
    (28, 8.10, [0.2,0.3,0.1,0.4,0.2,0.5,0.1,0.3]),
    (5, 8.30, [0.2,0.5,0.8,0.2,0.3,0.1]),
    (16, 8.45, [0.2,0.4,0.5,0.2,0.4,0.1]),
    (20, 8.55, [0.2,0.6,1.4,0.3,0.8,0.2]),
    (31, 8.55, [0.2,0.6,0.9,1.1,0.3,0.8,0.3,0.3]),
    (5, 8.65, [0.3,0.8,1.1,0.3,0.3,0.8,0.2,0.3]),
    (28, 8.70, [0.3,0.5,0.2,0.6,0.2,0.4,0.2,0.5,0.2,0.4]),
]

# ---------------- figure ----------------
W, H = 1092, 693
fig = plt.figure(figsize=(W / 100, H / 100), dpi=100)
cmap = plt.get_cmap('jet', 32)

SPINE = '#262626'
GRID = '#cccccc'
FS = 11.5
LW = 2.2


def px_axes(left, top, right, bottom):
    return fig.add_axes([left / W, 1 - bottom / H, (right - left) / W, (bottom - top) / H])


def draw(ax, passes, step):
    for prn, t0, vals in sorted(passes, key=lambda p: p[0]):
        v = np.asarray(vals, dtype=float)
        t = t0 + step * np.arange(len(v))
        ax.plot(t, v, color=cmap(prn - 1), lw=LW, zorder=2)


def ylabels_of(ymax):
    if ymax == 60:
        return [0, 20, 40, 60]
    if ymax == 20:
        return [0, 10, 20]
    return [0, 2, 4]


def style(ax, ymax, yminor, ygrid, xlabels, ylabel):
    ax.set_xlim(0, 9)
    ax.set_ylim(0, ymax)
    ax.xaxis.set_minor_locator(MultipleLocator(0.2))
    ax.set_xticks(range(10))
    ax.yaxis.set_minor_locator(MultipleLocator(yminor))
    labs = ylabels_of(ymax)
    ax.set_yticks(labs)
    ax.tick_params(which='both', direction='in', top=True, right=True,
                   width=1.5, color=SPINE, labelsize=FS, pad=4)
    ax.tick_params(which='major', length=5)
    ax.tick_params(which='minor', length=5)
    ax.tick_params(axis='x', which='major', length=8, pad=7)
    for x in range(1, 9):
        ax.axvline(x, color=GRID, lw=1.3, zorder=0)
    for y in ygrid:
        ax.axhline(y, color=GRID, lw=1.3, zorder=0)
    if xlabels is None:
        ax.tick_params(labelbottom=False)
    else:
        ax.set_xticklabels(xlabels)
    ax.set_yticklabels(['%g' % v for v in labs])
    for s in ax.spines.values():
        s.set_linewidth(2.0)
        s.set_color(SPINE)
    ax.set_ylabel(ylabel, fontsize=FS, fontweight='bold')
    ax.yaxis.set_label_coords(-0.036, 0.5)
    for lab in ax.get_xticklabels() + ax.get_yticklabels():
        lab.set_fontweight('bold')


ax1 = px_axes(57, 29, 1026, 175)
draw(ax1, tec01, STEP_TEC)
style(ax1, 60, 5, [20, 40], None, 'TEC [TECU]')

ax2 = px_axes(57, 178, 1026, 323)
draw(ax2, roti01, STEP_ROTI)
style(ax2, 5, 0.5, [2, 4], days01, 'ROTI [TECU/min]')

ax3 = px_axes(57, 373, 1026, 519)
draw(ax3, tec20, STEP_TEC)
style(ax3, 20, 2, [10], None, 'TEC [TECU]')

ax4 = px_axes(57, 523, 1026, 667)
draw(ax4, roti20, STEP_ROTI)
style(ax4, 5, 0.5, [2, 4], days20, 'ROTI [TECU/min]')

cx = (57 + 1026) / 2 / W
fig.text(cx, 1 - 12 / H, 'YEAR = 2001', ha='center', va='center', fontsize=12.5, fontweight='bold')
fig.text(cx, 1 - 361 / H, 'Year = 2020', ha='center', va='center', fontsize=12.5, fontweight='bold')

# colorbar
cax = px_axes(1053, 140, 1067, 575)
sm = mcm.ScalarMappable(norm=mcolors.Normalize(vmin=1, vmax=32), cmap=cmap)
cb = fig.colorbar(sm, cax=cax, ticks=prn_ticks)
cb.outline.set_visible(False)
cax.tick_params(length=0, labelsize=FS, pad=3)
for lab in cax.get_yticklabels():
    lab.set_fontweight('bold')
fig.text(1062 / W, 1 - 127 / H, 'PRN#', ha='center', va='center', fontsize=FS, fontweight='bold')

fig.savefig('out.png', dpi=100)
